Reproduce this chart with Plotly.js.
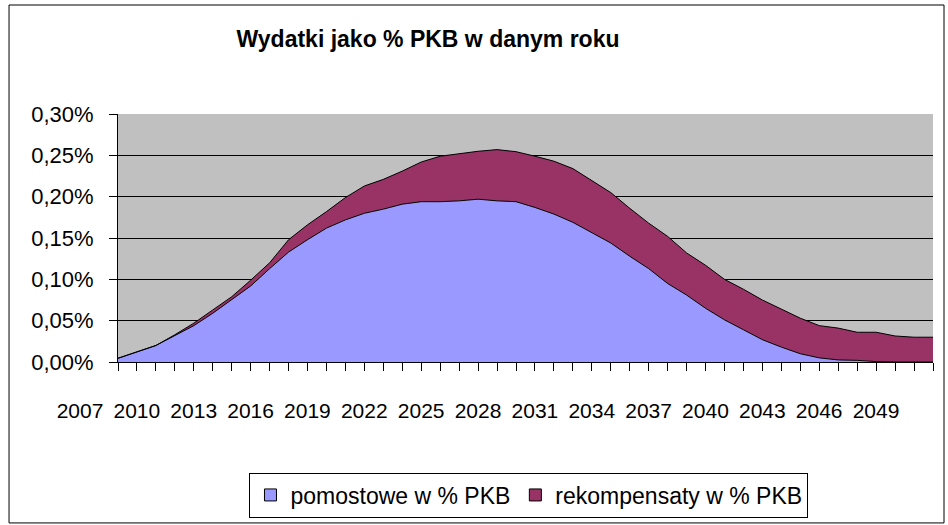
<!DOCTYPE html>
<html>
<head>
<meta charset="utf-8">
<script src="https://cdn.plot.ly/plotly-3.0.1.min.js"></script>
<style>html,body{margin:0;padding:0;background:#fff;}#chart{width:948px;height:525px;}</style>
</head>
<body>
<div id="chart"></div>
<script>
// Years (categories)
var years = [2007,2008,2009,2010,2011,2012,2013,2014,2015,2016,2017,2018,2019,2020,2021,2022,2023,2024,2025,2026,2027,2028,2029,2030,2031,2032,2033,2034,2035,2036,2037,2038,2039,2040,2041,2042,2043,2044,2045,2046,2047,2048,2049,2050];
// Tick labels shown on the category axis
var labelYears = [2007,2010,2013,2016,2019,2022,2025,2028,2031,2034,2037,2040,2043,2046,2049];
// Series values, % of GDP
var pomostowe = [0.0045,0.0125,0.020,0.032,0.044,0.059,0.076,0.092,0.113,0.133,0.148,0.162,0.172,0.180,0.185,0.191,0.194,0.194,0.195,0.197,0.195,0.194,0.187,0.179,0.169,0.157,0.144,0.128,0.113,0.095,0.081,0.065,0.051,0.039,0.027,0.018,0.010,0.005,0.0025,0.002,0.0005,0,0,0];
var rekompensaty = [0,0,0,0.001,0.003,0.004,0.003,0.007,0.007,0.015,0.018,0.020,0.027,0.033,0.036,0.040,0.048,0.055,0.057,0.058,0.062,0.0605,0.062,0.064,0.065,0.063,0.061,0.058,0.055,0.057,0.051,0.052,0.049,0.049,0.048,0.046,0.043,0.039,0.0385,0.034,0.0355,0.0315,0.030,0.030];
var seriesNames = ['pomostowe w % PKB', 'rekompensaty w % PKB'];
var yTicks = [0, 0.05, 0.10, 0.15, 0.20, 0.25, 0.30];
var yTickText = yTicks.map(function (v) { return v.toFixed(2).replace('.', ',') + '%'; });

var FONT = 'Liberation Sans, Arial, sans-serif';
var colBlue = '#9999FF', colRed = '#993366';

var traces = [
  {x: years, y: pomostowe, type: 'scatter', mode: 'lines', stackgroup: 'one',
   line: {color: '#000', width: 1}, fillcolor: colBlue, name: seriesNames[0], showlegend: false, hoverinfo: 'skip'},
  {x: years, y: rekompensaty, type: 'scatter', mode: 'lines', stackgroup: 'one',
   line: {color: '#000', width: 1}, fillcolor: colRed, name: seriesNames[1], showlegend: false, hoverinfo: 'skip'},
  {x: [null], y: [null], type: 'bar', name: seriesNames[0], marker: {color: colBlue, line: {color: '#000', width: 1}}, hoverinfo: 'skip'},
  {x: [null], y: [null], type: 'bar', name: seriesNames[1], marker: {color: colRed, line: {color: '#000', width: 1}}, hoverinfo: 'skip'}
];

var layout = {
  width: 948, height: 525,
  margin: {l: 118, r: 15, t: 114, b: 163, pad: 0},
  paper_bgcolor: '#fff',
  plot_bgcolor: '#C0C0C0',
  font: {family: FONT, color: '#000', size: 22},
  title: {text: 'Wydatki jako % PKB w danym roku', font: {family: FONT, size: 23, weight: 'bold', color: '#000'},
          xref: 'container', x: 0.4515, xanchor: 'center', yref: 'container', y: 0.926, yanchor: 'middle'},
  xaxis: {
    range: [years[0], years[years.length - 1]],
    tickmode: 'array', tickvals: labelYears, ticktext: labelYears.map(String),
    ticks: 'outside', ticklen: 8, tickcolor: '#000', tickwidth: 1,
    minor: {tickmode: 'linear', tick0: years[0], dtick: 1, ticks: 'outside', ticklen: 8, tickcolor: '#000', showgrid: false},
    ticklabelshift: -38, ticklabelstandoff: 22,
    tickfont: {family: FONT, size: 21, color: '#000'},
    showline: true, linecolor: '#000', linewidth: 1,
    showgrid: false, zeroline: false, automargin: false, fixedrange: true
  },
  yaxis: {
    range: [0, 0.3001],
    tickmode: 'array', tickvals: yTicks, ticktext: yTickText,
    ticks: 'outside', ticklen: 8, tickcolor: '#000',
    ticklabelstandoff: 11,
    tickfont: {family: FONT, size: 22, color: '#000'},
    showline: true, linecolor: '#000', linewidth: 1,
    showgrid: true, gridcolor: '#000', gridwidth: 1,
    zeroline: false, automargin: false, fixedrange: true
  },
  showlegend: true,
  legend: {
    orientation: 'h', xref: 'container', x: 0.558, xanchor: 'center',
    yref: 'container', y: 0.1, yanchor: 'top',
    bordercolor: '#000', borderwidth: 1, bgcolor: '#fff',
    font: {family: FONT, size: 23, color: '#000'},
    traceorder: 'normal'
  },
  shapes: [
    {type: 'rect', xref: 'paper', yref: 'paper', x0: -0.1337, x1: 1.0135, y0: -0.649, y1: 1.4395,
     line: {color: '#000', width: 1}, fillcolor: 'rgba(0,0,0,0)', layer: 'above'}
  ]
};

Plotly.newPlot('chart', traces, layout, {staticPlot: true, displayModeBar: false});
</script>
</body>
</html>
